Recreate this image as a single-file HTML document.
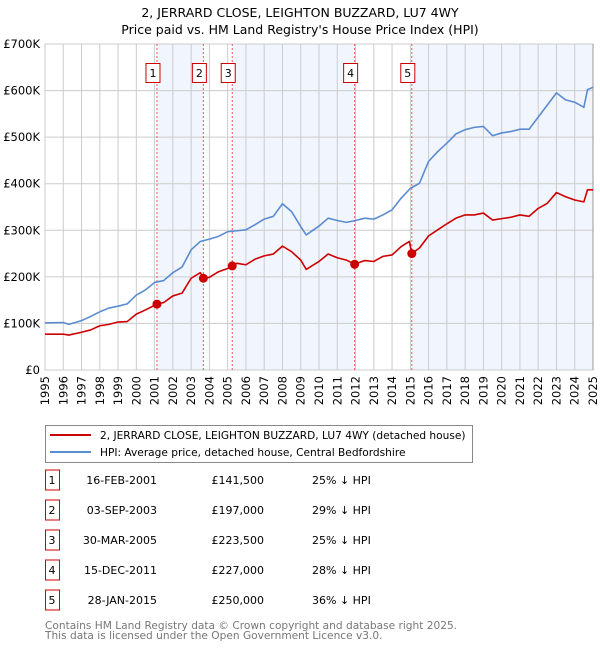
<!DOCTYPE html>
<html><head><meta charset="utf-8"><style>
body{margin:0;background:#fff;font-family:"DejaVu Sans","Liberation Sans",sans-serif;}
svg{display:block}
</style></head><body>
<svg id="c" width="600" height="650" xmlns="http://www.w3.org/2000/svg" font-family="DejaVu Sans, Liberation Sans, sans-serif">
<text x="300" y="17" text-anchor="middle" font-size="12.5">2, JERRARD CLOSE, LEIGHTON BUZZARD, LU7 4WY</text>
<text x="300" y="34" text-anchor="middle" font-size="12.5">Price paid vs. HM Land Registry's House Price Index (HPI)</text>
<g id="plot"></g>
<g>
<rect x="45.5" y="425.5" width="427" height="37" fill="#fff" stroke="#888"/>
<line x1="50" y1="435" x2="91" y2="435" stroke="#cc0000" stroke-width="2"/>
<text x="100" y="439" font-size="10.6">2, JERRARD CLOSE, LEIGHTON BUZZARD, LU7 4WY (detached house)</text>
<line x1="50" y1="452" x2="91" y2="452" stroke="#5b8bd0" stroke-width="2"/>
<text x="100" y="456" font-size="10.6">HPI: Average price, detached house, Central Bedfordshire</text>
</g>
<g id="table" font-size="11"></g>
<text x="45" y="629" font-size="10.6" fill="#777">Contains HM Land Registry data © Crown copyright and database right 2025.</text>
<text x="45" y="639" font-size="10.6" fill="#777">This data is licensed under the Open Government Licence v3.0.</text>
</svg>
<script>
const hpiYears=[1995,1996,1996.3,1997,1997.5,1998,1998.5,1999,1999.5,2000,2000.5,2001,2001.5,2002,2002.5,2003,2003.5,2004,2004.5,2005,2005.5,2006,2006.5,2007,2007.5,2008,2008.5,2009,2009.3,2010,2010.5,2011,2011.5,2012,2012.5,2013,2013.5,2014,2014.5,2015,2015.5,2016,2016.5,2017,2017.5,2018,2018.5,2019,2019.5,2020,2020.5,2021,2021.5,2022,2022.5,2023,2023.5,2024,2024.5,2024.7,2025];
const hpiValues=[101,102,98,106,115,125,133,137,142,161,172,188,192,209,221,258,276,281,287,297,299,301,312,324,330,357,340,308,290,309,326,321,317,321,326,324,333,344,369,390,401,448,469,487,507,516,521,523,503,509,512,517,517,543,569,595,580,575,564,602,607];
const propYears=[1995,1996,1996.3,1997,1997.5,1998,1998.5,1999,1999.5,2000,2000.5,2001.13,2001.5,2002,2002.5,2003,2003.5,2003.67,2004,2004.5,2005,2005.25,2005.5,2006,2006.5,2007,2007.5,2008,2008.5,2009,2009.3,2010,2010.5,2011,2011.5,2011.95,2012.5,2013,2013.5,2014,2014.5,2014.95,2015.08,2015.5,2016,2016.5,2017,2017.5,2018,2018.5,2019,2019.5,2020,2020.5,2021,2021.5,2022,2022.5,2023,2023.5,2024,2024.5,2024.7,2025];
const propValues=[77,77,75,81,86,95,98,103,104,120,129,141.5,145,159,165,197,209,197,199,211,218,223.5,229,226,238,245,249,266,254,236,216,233,249,241,236,227,235,233,244,247,265,276,250,262,288,301,314,326,333,333,337,322,325,328,333,330,347,358,381,372,365,361,387,387];
const saleLabels=["1","2","3","4","5"];
const saleYears=[2001.13,2003.67,2005.25,2011.95,2015.08];
const salePrices=[141.5,197,223.5,227,250];
const saleDates=["16-FEB-2001","03-SEP-2003","30-MAR-2005","15-DEC-2011","28-JAN-2015"];
const salePriceText=["£141,500","£197,000","£223,500","£227,000","£250,000"];
const saleHpiText=["25% ↓ HPI","29% ↓ HPI","25% ↓ HPI","28% ↓ HPI","36% ↓ HPI"];
const yTicks=[0,100,200,300,400,500,600,700];
const yTickLabels=["£0","£100K","£200K","£300K","£400K","£500K","£600K","£700K"];
const xTicks=[1995,1996,1997,1998,1999,2000,2001,2002,2003,2004,2005,2006,2007,2008,2009,2010,2011,2012,2013,2014,2015,2016,2017,2018,2019,2020,2021,2022,2023,2024,2025];

const NS="http://www.w3.org/2000/svg";
const L=45,R=593,T=44,B=370;
const xs=y=>L+(y-1995)/30*(R-L);
const ys=v=>B-v/700*(B-T);
const g=document.getElementById('plot');
function mk(tag,attrs,parent){const e=document.createElementNS(NS,tag);for(const k in attrs)e.setAttribute(k,attrs[k]);(parent||g).appendChild(e);return e;}
const bounds=saleYears.concat([2025]);
for(let i=0;i<bounds.length-1;i+=2){
  const r=mk('rect',{x:xs(bounds[i]),y:T,width:xs(bounds[i+1])-xs(bounds[i]),height:B-T,fill:'#f1f5fd'});
  
  
}
xTicks.forEach(t=>{
  const l=mk('line',{x1:xs(t),x2:xs(t),y1:T,y2:B,stroke:'#ccc','stroke-width':1});
  
  
  const tx=mk('text',{x:0,y:0,'font-size':11.5,'text-anchor':'end',transform:`translate(${xs(t)+4},${B+6}) rotate(-90)`});
  tx.textContent=t;
  
  
});
yTicks.forEach((t,i)=>{
  const l=mk('line',{x1:L,x2:R,y1:ys(t),y2:ys(t),stroke:'#ccc','stroke-width':1});
  
  
  const tx=mk('text',{x:40,y:ys(t)+4,'font-size':11.5,'text-anchor':'end'});
  tx.textContent=yTickLabels[i];
  
  
});
const fr=mk('rect',{x:L,y:T,width:R-L,height:B-T,fill:'none',stroke:'#ccc'});


const ra=mk('line',{x1:R,x2:R,y1:T,y2:B,stroke:'#999'});


saleYears.forEach((y,i)=>{
  const l=mk('line',{x1:xs(y),x2:xs(y),y1:T,y2:B,stroke:'#ee5555','stroke-dasharray':'2,2','stroke-width':1});
  
  
  const b=mk('rect',{x:xs(y)-11,y:63.5,width:14,height:19,fill:'#fff',stroke:'#cc0000'});
  
  
  const t=mk('text',{x:xs(y)-4,y:77,'font-size':11,'text-anchor':'middle'});
  t.textContent=saleLabels[i];
  
  
});
function line(xsArr,vs,col,name){
  const p=mk('polyline',{points:xsArr.map((x,i)=>xs(x)+','+ys(vs[i])).join(' '),fill:'none',stroke:col,'stroke-width':1.6,'stroke-linejoin':'round'});
  
  
}
line(hpiYears,hpiValues,'#5b8bd0','hpi-line');
line(propYears,propValues,'#cc0000','property-price-line');
saleYears.forEach((y,i)=>{
  const c=mk('circle',{cx:xs(y),cy:ys(salePrices[i]),r:4.5,fill:'#cc0000'});
  
  
});
const tb=document.getElementById('table');
saleLabels.forEach((s,i)=>{
  const y=483+i*30;
  const b=mk('rect',{x:45.5,y:y-13,width:14,height:20,fill:'#fff',stroke:'#cc0000'},tb);
  
  
  const cells=[[52,'middle',s,'table-row-number'],[157,'end',saleDates[i],'table-date'],[264,'end',salePriceText[i],'table-price'],[312,'start',saleHpiText[i],'table-hpi-diff']];
  cells.forEach(c=>{
    const t=mk('text',{x:c[0],y:y+1,'text-anchor':c[1]},tb);
    t.textContent=c[2];
    
    
  });
});
</script>
</body></html>
